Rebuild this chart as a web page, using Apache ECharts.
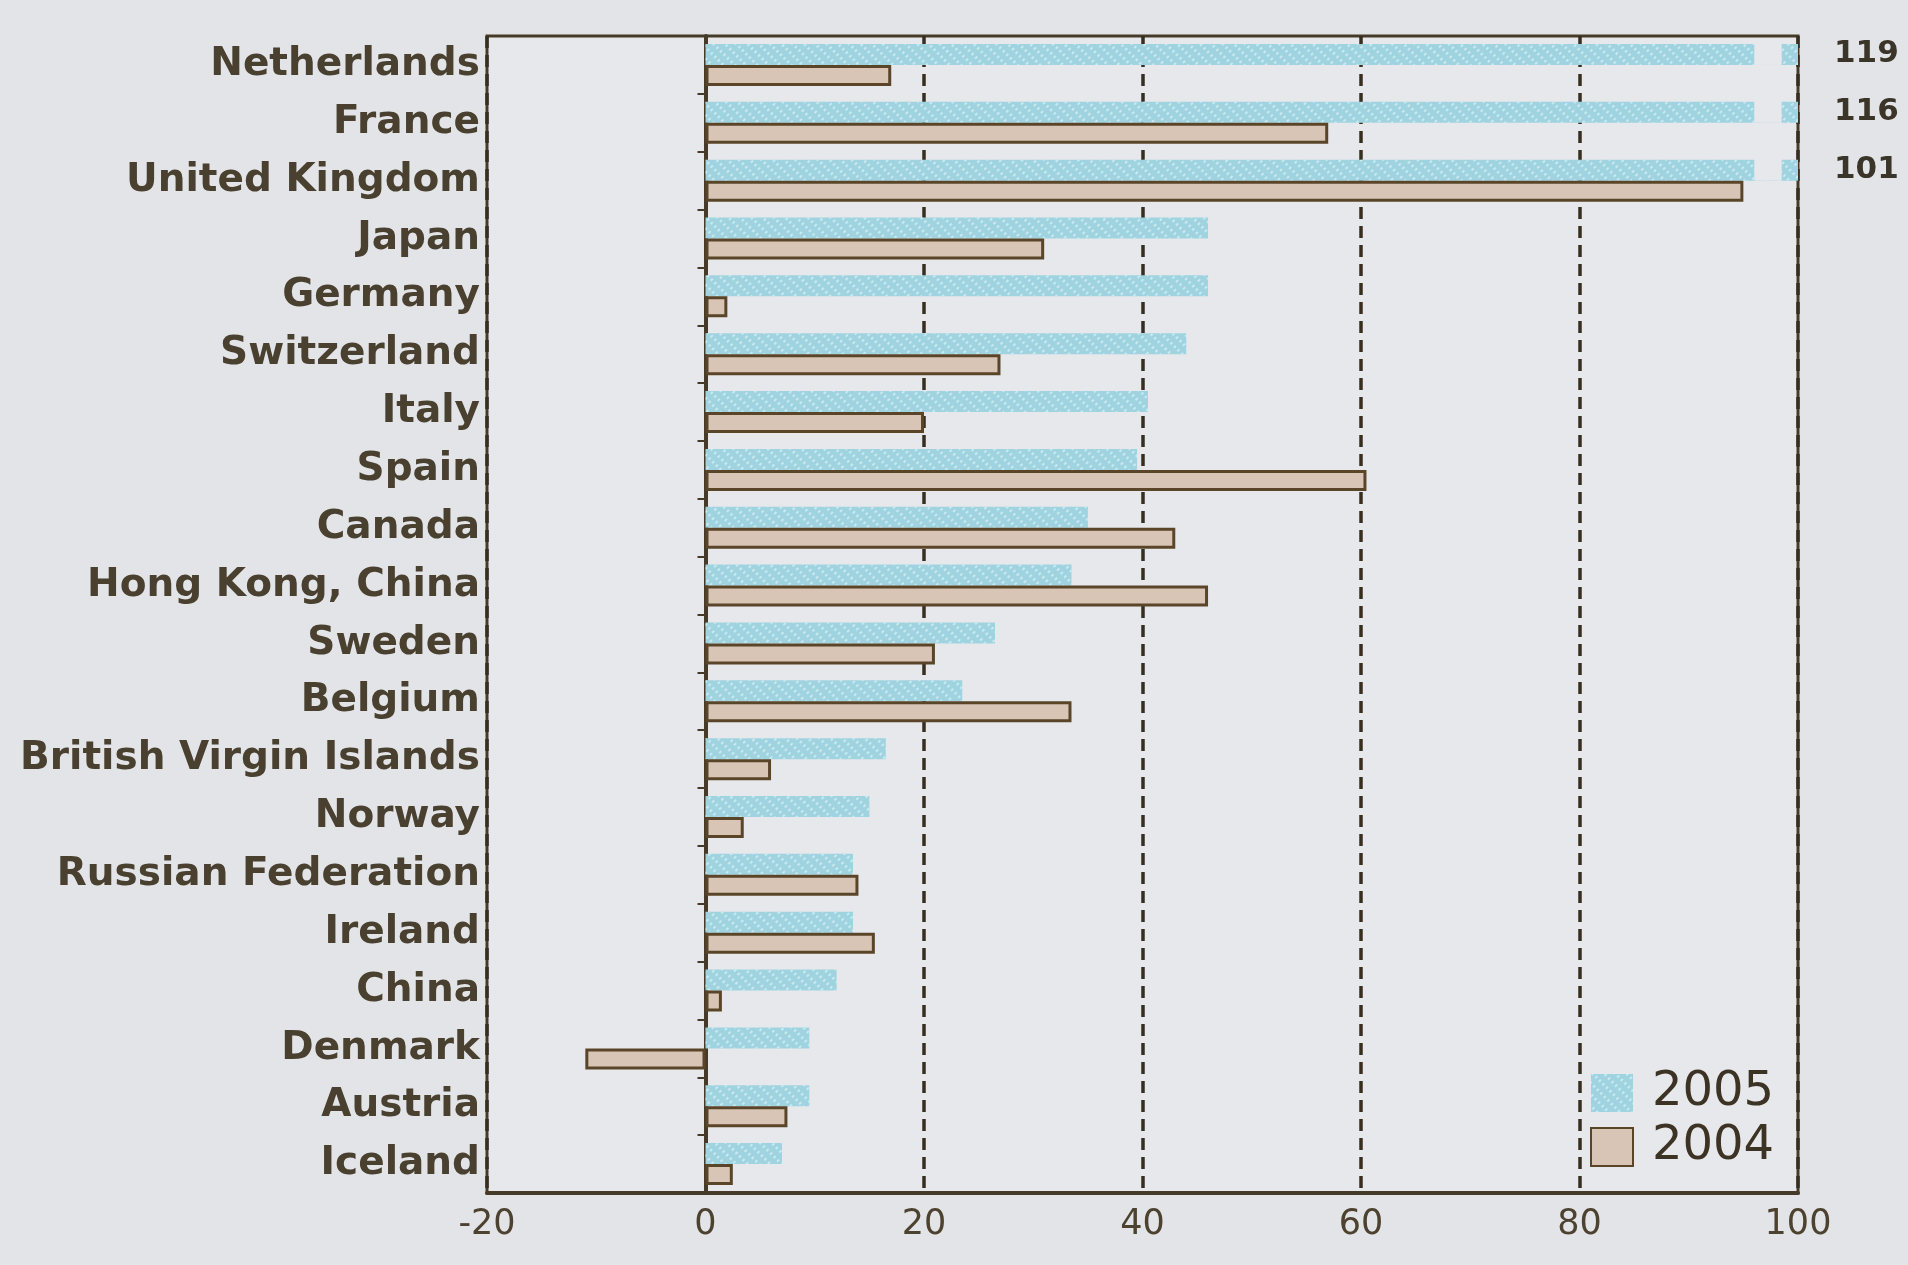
<!DOCTYPE html>
<html>
<head>
<meta charset="utf-8">
<title>Inward FDI flows by source, 2004–2005</title>
<script src="https://cdn.jsdelivr.net/npm/echarts@6/dist/echarts.min.js"></script>
<style>
  html, body { margin: 0; padding: 0; background: #e3e4e7; }
  #chart { width: 1908px; height: 1265px; }
</style>
</head>
<body>
<div id="chart"></div>
<script>
// Countries, top to bottom
const categories = [
  'Netherlands', 'France', 'United Kingdom', 'Japan', 'Germany',
  'Switzerland', 'Italy', 'Spain', 'Canada', 'Hong Kong, China',
  'Sweden', 'Belgium', 'British Virgin Islands', 'Norway',
  'Russian Federation', 'Ireland', 'China', 'Denmark', 'Austria', 'Iceland'
];

// Values per year
const values2005 = [119, 116, 101, 46, 46, 44, 40.5, 39.5, 35, 33.5,
                    26.5, 23.5, 16.5, 15, 13.5, 13.5, 12, 9.5, 9.5, 7];
const values2004 = [17, 57, 95, 31, 2, 27, 20, 60.5, 43, 46,
                    21, 33.5, 6, 3.5, 14, 15.5, 1.5, -11, 7.5, 2.5];

// Value axis ticks
const xMin = -20;
const xMax = 100;
const xStep = 20;

// Bars running past the axis end are cut with a break in this range
const breakFrom = 96;
const breakTo = 98.5;

const GRID = { left: 487, right: 110, top: 36, bottom: 72 };
const BAR_W = 21;
const INK = '#463b28';
const LABEL_INK = '#494030';
const PLOT_BG = '#e7e8eb';
const BLUE = '#9fd3e0';
const TAN = '#d8c5b6';
const BROWN = '#5a4529';

const chart = echarts.init(document.getElementById('chart'), null, { renderer: 'canvas' });

chart.setOption({
  backgroundColor: '#e3e4e7',
  animation: false,
  textStyle: { fontFamily: 'DejaVu Sans' },
  grid: {
    left: GRID.left, right: GRID.right, top: GRID.top, bottom: GRID.bottom,
    outerBoundsMode: 'none',
    containLabel: false,
    show: true, backgroundColor: PLOT_BG, borderColor: INK, borderWidth: 3
  },
  legend: {
    data: ['2005', '2004'],
    orient: 'vertical',
    left: 1585,
    top: 1064,
    itemWidth: 42,
    itemHeight: 38,
    itemGap: 6,
    icon: 'rect',
    textStyle: {
      fontFamily: 'DejaVu Sans', fontSize: 48, color: '#3c3325',
      padding: [0, 0, 0, 14]
    }
  },
  xAxis: {
    type: 'value',
    min: xMin, max: xMax, interval: xStep,
    axisLine: { show: true, lineStyle: { color: INK, width: 4 } },
    axisTick: { show: false },
    axisLabel: {
      margin: 14, fontSize: 35, color: '#4d4230', fontFamily: 'DejaVu Sans'
    },
    splitLine: {
      show: true,
      lineStyle: { color: '#372e20', width: 3.5, type: [12, 7] }
    }
  },
  yAxis: {
    type: 'category',
    data: categories,
    inverse: true,
    // the axis line sits on zero; its labels stay at the left edge of the frame
    axisLine: { show: true, onZero: true, lineStyle: { color: INK, width: 4 } },
    axisTick: { show: true, length: 8, lineStyle: { color: INK, width: 2 } },
    axisLabel: {
      margin: 7,
      fontSize: 39, fontWeight: 'bold', color: LABEL_INK,
      fontFamily: 'DejaVu Sans',
      padding: [0, 0, 18, 0]
    },
    splitLine: { show: false }
  },
  series: [
    {
      name: '2005',
      type: 'bar',
      data: values2005,
      barWidth: BAR_W,
      barGap: '0%',
      clip: true,
      itemStyle: {
        color: BLUE,
        decal: {
          symbol: 'rect',
          symbolSize: 1,
          color: 'rgba(214, 240, 244, 0.75)',
          dashArrayX: [[3, 5]],
          dashArrayY: [2, 3],
          rotation: -Math.PI / 4
        }
      },
      label: {
        show: true,
        position: 'right',
        distance: 36,
        fontFamily: 'DejaVu Sans',
        fontWeight: 'bold',
        fontSize: 31,
        color: '#3b3428',
        formatter: p => (p.value > xMax ? String(p.value) : '')
      }
    },
    {
      name: '2004',
      type: 'bar',
      data: values2004,
      barWidth: BAR_W,
      barGap: '0%',
      itemStyle: {
        color: TAN,
        borderColor: BROWN,
        borderWidth: 3
      }
    },
    {
      // break marks on bars that run past the end of the value axis
      name: 'break',
      type: 'custom',
      z: 5,
      silent: true,
      data: values2005.map((v, i) => [v, i]),
      encode: { x: 0, y: 1 },
      renderItem: (params, api) => {
        const v = api.value(0);
        if (v <= xMax) return null;
        const idx = api.value(1);
        const p0 = api.coord([breakFrom, idx]);
        const p1 = api.coord([breakTo, idx]);
        return {
          type: 'rect',
          shape: {
            x: p0[0],
            y: p0[1] - BAR_W - 1,
            width: p1[0] - p0[0],
            height: BAR_W + 1
          },
          style: { fill: PLOT_BG }
        };
      }
    }
  ]
});
</script>
</body>
</html>
